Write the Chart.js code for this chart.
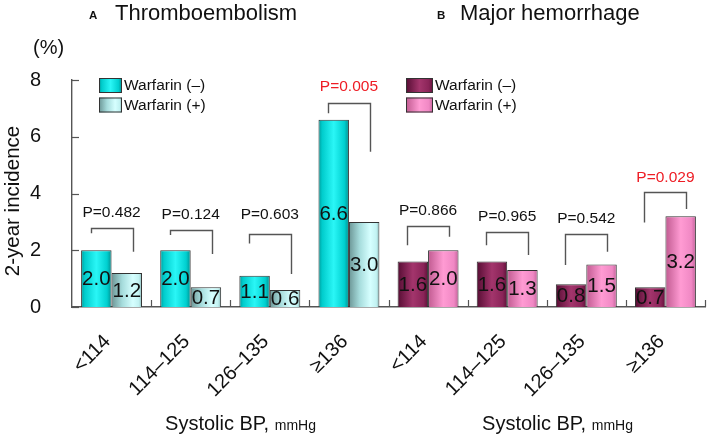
<!DOCTYPE html>
<html><head><meta charset="utf-8">
<script src="https://cdn.jsdelivr.net/npm/chart.js@4"></script>
<style>html,body{margin:0;padding:0;background:#fff;} #wrap{width:709px;height:438px;position:relative}</style>
</head><body><div id="wrap"><canvas id="c" width="709" height="438"></canvas></div>
<script>
// ---- data ----
const categories = ["<114", "114–125", "126–135", "≥136", "<114", "114–125", "126–135", "≥136"];
const panelLetters = ["A", "B"];
const panelTitles = ["Thromboembolism", "Major hemorrhage"];
const seriesNames = ["Warfarin (–)", "Warfarin (+)"];
const warfarinNeg = [2.0, 2.0, 1.1, 6.6, 1.6, 1.6, 0.8, 0.7];
const warfarinPos = [1.2, 0.7, 0.6, 3.0, 2.0, 1.3, 1.5, 3.2];
const valueLabelsNeg = ["2.0", "2.0", "1.1", "6.6", "1.6", "1.6", "0.8", "0.7"];
const valueLabelsPos = ["1.2", "0.7", "0.6", "3.0", "2.0", "1.3", "1.5", "3.2"];
const pValues = ["P=0.482", "P=0.124", "P=0.603", "P=0.005", "P=0.866", "P=0.965", "P=0.542", "P=0.029"];
const pSignificant = [false, false, false, true, false, false, false, true];
// bracket levels in data units (%)
const bracketTop = [2.79, 2.71, 2.56, 7.2, 2.85, 2.63, 2.56, 4.06];
const bracketLeftEnd = [2.6, 2.54, 2.24, 6.83, 2.18, 2.18, 1.48, 2.98];
const bracketRightEnd = [1.95, 1.87, 1.16, 5.47, 2.48, 1.83, 1.95, 3.45];
const pLabelLevel = [3.32, 3.26, 3.24, 7.75, 3.38, 3.18, 3.12, 4.57];
const yTickValues = [0, 2, 4, 6, 8];
const yAxisTitle = "2-year incidence";
const yUnit = "(%)";
const xTitleMain = "Systolic BP,";
const xTitleUnit = "mmHg";

// ---- styles ----
const FONT = "'Liberation Sans', Arial, sans-serif";
const TEXT = "#111";
const GRAD = {
  negA: [[0, '#009a9a'], [0.12, '#00cccc'], [0.5, '#2af6f6'], [0.85, '#00d0d0'], [1, '#008f8f']],
  posA: [[0, '#6c9696'], [0.35, '#a6dcdc'], [0.7, '#d6ffff'], [0.9, '#c2f2f2'], [1, '#8ab6b6']],
  negB: [[0, '#560d33'], [0.5, '#a3356c'], [0.85, '#8a2458'], [1, '#5e1038']],
  posB: [[0, '#c05a90'], [0.5, '#ff9bd3'], [0.85, '#f088c4'], [1, '#c4609a']]
};
const panelOf = i => (i < 4 ? 0 : 1);
function gradFor(ctx, x0, x1, stops) {
  const g = ctx.createLinearGradient(x0, 0, x1, 0);
  stops.forEach(s => g.addColorStop(s[0], s[1]));
  return g;
}
function stopsFor(ds, i) {
  if (ds === 0) return panelOf(i) === 0 ? GRAD.negA : GRAD.negB;
  return panelOf(i) === 0 ? GRAD.posA : GRAD.posB;
}

const decor = {
  id: 'decor',
  beforeDatasetsDraw(chart) {
    const ctx = chart.ctx;
    chart.data.datasets.forEach((d, ds) => {
      const meta = chart.getDatasetMeta(ds);
      meta.data.forEach((el, i) => {
        const p = el.getProps(['x', 'width'], true);
        const g = gradFor(ctx, p.x - p.width / 2, p.x + p.width / 2, stopsFor(ds, i));
        el.options = Object.assign({}, el.options, { backgroundColor: g });
      });
    });
  },
  afterDraw(chart) {
    const ctx = chart.ctx;
    const xs = chart.scales.x, ys = chart.scales.y;
    const ca = chart.chartArea;
    ctx.save();
    // inward tick marks
    ctx.strokeStyle = '#555';
    ctx.lineWidth = 1.2;
    const catW = (ca.right - ca.left) / categories.length;
    for (let k = 1; k <= categories.length; k++) {
      const x = Math.round(ca.left + k * catW) + 0.5;
      ctx.beginPath(); ctx.moveTo(x, ca.bottom); ctx.lineTo(x, ca.bottom - 7); ctx.stroke();
    }
    yTickValues.forEach(v => {
      const y = Math.round(ys.getPixelForValue(v)) + 0.5;
      ctx.beginPath(); ctx.moveTo(ca.left, y); ctx.lineTo(ca.left + 7, y); ctx.stroke();
    });

    // value labels inside bars
    ctx.fillStyle = TEXT;
    ctx.font = '20.5px ' + FONT;
    ctx.textAlign = 'center';
    ctx.textBaseline = 'middle';
    [valueLabelsNeg, valueLabelsPos].forEach((labs, ds) => {
      chart.getDatasetMeta(ds).data.forEach((el, i) => {
        const p = el.getProps(['x', 'y', 'base'], true);
        ctx.fillText(labs[i], p.x, (p.y + p.base) / 2 + 1);
      });
    });

    // brackets and P values
    const m0 = chart.getDatasetMeta(0).data, m1 = chart.getDatasetMeta(1).data;
    ctx.strokeStyle = '#555';
    ctx.lineWidth = 1.4;
    for (let i = 0; i < categories.length; i++) {
      const a = m0[i].getProps(['x', 'width'], true), b = m1[i].getProps(['x', 'width'], true);
      const mid = (a.x + b.x) / 2;
      const half = a.width * 0.69;
      const xl = Math.round(mid - half) + 0.5, xr = Math.round(mid + half) + 0.5;
      const yt = Math.round(ys.getPixelForValue(bracketTop[i])) + 0.5;
      ctx.beginPath();
      ctx.moveTo(xl, ys.getPixelForValue(bracketLeftEnd[i]));
      ctx.lineTo(xl, yt);
      ctx.lineTo(xr, yt);
      ctx.lineTo(xr, ys.getPixelForValue(bracketRightEnd[i]));
      ctx.stroke();
      ctx.font = '15.5px ' + FONT;
      ctx.fillStyle = pSignificant[i] ? '#ee1c24' : TEXT;
      ctx.textAlign = 'center';
      ctx.textBaseline = 'middle';
      ctx.fillText(pValues[i], mid, ys.getPixelForValue(pLabelLevel[i]));
    }

    // panel titles
    const titleX = [89, 437];
    ctx.fillStyle = TEXT;
    ctx.textAlign = 'left';
    ctx.textBaseline = 'alphabetic';
    for (let p = 0; p < 2; p++) {
      ctx.font = 'bold 11.5px ' + FONT;
      ctx.fillText(panelLetters[p], titleX[p], 18.5);
      ctx.font = '22px ' + FONT;
      ctx.fillText(panelTitles[p], titleX[p] + (p === 0 ? 26 : 23), 20);
    }

    // (%)
    ctx.font = '20px ' + FONT;
    ctx.fillText(yUnit, 33, 54);

    // y axis title
    ctx.save();
    ctx.translate(13, 201);
    ctx.rotate(-Math.PI / 2);
    ctx.textAlign = 'center';
    ctx.textBaseline = 'middle';
    ctx.font = '20.5px ' + FONT;
    ctx.fillText(yAxisTitle, 0, 0);
    ctx.restore();

    // legends
    const legX = [99, 406];
    for (let p = 0; p < 2; p++) {
      for (let s = 0; s < 2; s++) {
        const x0 = legX[p], y0 = 78 + s * 19.5, w = p === 0 ? 23 : 27, h = 15;
        ctx.fillStyle = gradFor(ctx, x0, x0 + w, p === 0 ? (s === 0 ? GRAD.negA : GRAD.posA) : (s === 0 ? GRAD.negB : GRAD.posB));
        ctx.fillRect(x0, y0, w, h);
        ctx.strokeStyle = '#333';
        ctx.lineWidth = 1;
        ctx.strokeRect(x0 + 0.5, y0 + 0.5, w - 1, h - 1);
        ctx.fillStyle = TEXT;
        ctx.font = '15.5px ' + FONT;
        ctx.textAlign = 'left';
        ctx.textBaseline = 'middle';
        ctx.fillText(seriesNames[s], x0 + w + 2, y0 + h / 2 + 0.5);
      }
    }

    // x axis titles per panel
    const xtCenter = [240.5, 557.5];
    ctx.textBaseline = 'alphabetic';
    ctx.textAlign = 'left';
    for (let p = 0; p < 2; p++) {
      ctx.font = '20px ' + FONT;
      const w1 = ctx.measureText(xTitleMain + ' ').width;
      ctx.font = '14px ' + FONT;
      const w2 = ctx.measureText(xTitleUnit).width;
      const x0 = xtCenter[p] - (w1 + w2) / 2;
      ctx.font = '20px ' + FONT;
      ctx.fillText(xTitleMain + ' ', x0, 430);
      ctx.font = '14px ' + FONT;
      ctx.fillText(xTitleUnit, x0 + w1, 430);
    }
    ctx.restore();
  }
};

Chart.defaults.font.family = FONT;
new Chart(document.getElementById('c'), {
  type: 'bar',
  data: {
    labels: categories,
    datasets: [
      { label: seriesNames[0], data: warfarinNeg, backgroundColor: '#00cccc', borderColor: '#333', borderWidth: 1, borderSkipped: 'bottom' },
      { label: seriesNames[1], data: warfarinPos, backgroundColor: '#a6dcdc', borderColor: '#333', borderWidth: 1, borderSkipped: 'bottom' }
    ]
  },
  options: {
    responsive: false,
    animation: false,
    devicePixelRatio: 1,
    layout: { padding: { top: 80, right: 4, left: 0, bottom: 0 } },
    plugins: { legend: { display: false }, tooltip: { enabled: false }, title: { display: false } },
    datasets: { bar: { categoryPercentage: 0.77, barPercentage: 1.0 } },
    scales: {
      x: {
        type: 'category',
        offset: true,
        grid: { display: false },
        border: { display: true, color: '#555', width: 1.4 },
        ticks: { autoSkip: false, maxRotation: 45, minRotation: 45, padding: 15, labelOffset: -4, color: TEXT, font: { size: 20 } },
        afterFit: s => { s.height = 131; }
      },
      y: {
        min: 0, max: 8,
        grid: { display: false },
        border: { display: true, color: '#555', width: 1.4 },
        ticks: { stepSize: 2, padding: 23, color: TEXT, font: { size: 20 } },
        afterFit: s => { s.width = 72; }
      }
    }
  },
  plugins: [decor]
});
</script>
</body></html>
